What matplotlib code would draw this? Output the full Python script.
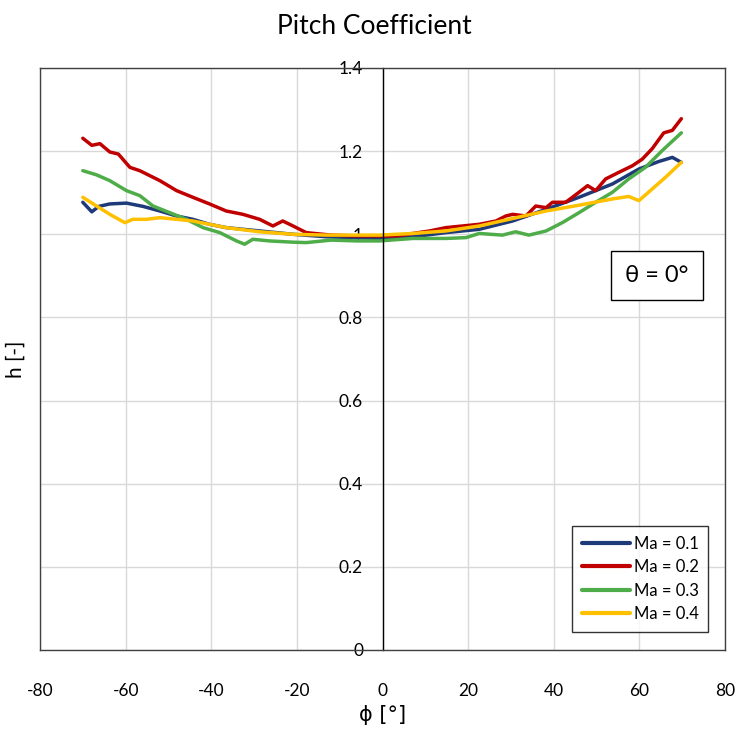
import matplotlib
matplotlib.use("Agg")
import matplotlib.pyplot as plt

plt.rcParams['font.family'] = ['Lato', 'DejaVu Sans']

# ---- data ----
phi_blue = [-70, -67.9, -66.3, -63.7, -59.8, -55.9, -52.0, -48.1, -44.3, -40.4, -36.5, -28.7, -20.9, -13.1,
            -7, -0.7, 7.1, 14.8, 22.6, 30.4, 38.2, 45.9, 53.7, 59.9, 64.5, 67.7, 69.8]
h_blue = [1.077, 1.054, 1.067, 1.073, 1.075, 1.067, 1.056, 1.044, 1.036, 1.024, 1.016, 1.008, 1.000, 0.994,
          0.992, 0.990, 0.994, 1.004, 1.012, 1.032, 1.060, 1.089, 1.121, 1.157, 1.175, 1.185, 1.173]

phi_red = [-70.0, -67.9, -66.0, -63.7, -61.7, -59.0, -56.7, -52.0, -48.1, -44.3, -40.4, -36.5, -32.6, -28.7,
           -25.6, -23.3, -20.9, -17.8, -12, -6, -0.7, 3.2, 7.1, 11.0, 14.8, 18.7, 22.6, 26.5, 28.8, 30.4,
           33.5, 35.8, 38.2, 39.7, 42.8, 45.9, 47.9, 49.8, 52.1, 55.2, 58.4, 60.7, 63.0, 65.7, 67.7, 69.8]
h_red = [1.231, 1.214, 1.218, 1.198, 1.193, 1.161, 1.153, 1.129, 1.105, 1.089, 1.073, 1.056, 1.048, 1.036,
         1.020, 1.032, 1.020, 1.004, 0.998, 0.996, 0.996, 0.996, 1.002, 1.008, 1.016, 1.020, 1.024, 1.032, 1.044, 1.048,
         1.044, 1.068, 1.064, 1.077, 1.077, 1.101, 1.117, 1.105, 1.133, 1.149, 1.165, 1.181, 1.206, 1.244, 1.250, 1.278]

phi_green = [-70, -66.8, -63.7, -59.8, -56.7, -53.6, -49.7, -45.8, -41.9, -38.0, -34.1, -32.2, -30.3, -26.4,
             -20.9, -17.8, -12, -6, -0.7, 7.1, 14.8, 19.5, 22.6, 28.0, 31.1, 34.2, 38.2, 42.0, 45.9, 49.8,
             53.7, 57.5, 61.4, 65.3, 69.8]
h_green = [1.153, 1.143, 1.129, 1.105, 1.093, 1.068, 1.052, 1.036, 1.016, 1.004, 0.984, 0.976, 0.988, 0.984,
           0.981, 0.980, 0.986, 0.984, 0.984, 0.990, 0.990, 0.992, 1.002, 0.998, 1.006, 0.998, 1.008, 1.028, 1.052, 1.077,
           1.101, 1.133, 1.161, 1.201, 1.244]

phi_yellow = [-70, -66.8, -63.7, -60.2, -58.3, -55.1, -52.0, -48.1, -44.3, -40.4, -36.5, -28.7, -20.9, -13.1,
              -7, -0.7, 7.1, 14.8, 22.6, 30.4, 38.2, 45.9, 53.7, 57.5, 59.9, 63.0, 66.1, 69.8]
h_yellow = [1.089, 1.068, 1.048, 1.028, 1.036, 1.036, 1.040, 1.036, 1.032, 1.024, 1.016, 1.006, 1.000, 0.998,
            0.998, 0.998, 1.002, 1.008, 1.020, 1.038, 1.056, 1.070, 1.085, 1.091, 1.081, 1.109, 1.137, 1.173]

series_labels = ['Ma = 0.1', 'Ma = 0.2', 'Ma = 0.3', 'Ma = 0.4']
series_colors = ['#1F3A78', '#C00000', '#4EAD48', '#FFC000']

x_ticks = [-80, -60, -40, -20, 0, 20, 40, 60, 80]
y_ticks = [0, 0.2, 0.4, 0.6, 0.8, 1.0, 1.2, 1.4]
y_tick_labels = ['0', '0.2', '0.4', '0.6', '0.8', '1', '1.2', '1.4']

# ---- figure ----
fig = plt.figure(figsize=(7.39, 7.29), dpi=100)
ax = fig.add_axes([40/739, 1-650/729, 685/739, 582/729])

data = [(phi_blue, h_blue), (phi_red, h_red), (phi_green, h_green), (phi_yellow, h_yellow)]
for (xs, ys), lab, col in zip(data, series_labels, series_colors):
    ax.plot(xs, ys, color=col, lw=2.5, label=lab, solid_capstyle='round', solid_joinstyle='round')

ax.set_xlim(-80, 80)
ax.set_ylim(0, 1.4)
ax.set_xticks(x_ticks)
ax.set_xticklabels([str(t) for t in x_ticks])
ax.set_yticks(y_ticks)
ax.set_yticklabels(y_tick_labels)

ax.grid(True, color='#D9D9D9', lw=1.0)
ax.set_axisbelow(True)

for s in ['top', 'right', 'bottom']:
    ax.spines[s].set_color('#404040')
    ax.spines[s].set_linewidth(1.0)
ax.spines['left'].set_position(('data', 0))
ax.spines['left'].set_color('black')
ax.spines['left'].set_linewidth(1.0)
ax.axvline(-80, color='#404040', lw=1.0, clip_on=False, zorder=3)

ax.tick_params(axis='both', length=0, labelsize=12.5, colors='black')
ax.tick_params(axis='x', pad=24)
ax.tick_params(axis='y', pad=14)

ax.set_xlabel('ϕ [°]', fontsize=15, family=['DejaVu Sans'])
ax.xaxis.set_label_coords(0.5, -0.112)
ax.xaxis.label.set_va('center')
ax.set_ylabel('h [-]', fontsize=15)
ax.yaxis.set_label_coords(-0.036, 0.5)
ax.yaxis.label.set_va('center')

fig.text(374/739, 1-26/729, 'Pitch Coefficient', ha='center', va='center', fontsize=19)

# theta annotation box
ax.text(0.901, 0.643, 'θ = 0°', transform=ax.transAxes, ha='center', va='center', fontsize=17,
        bbox=dict(boxstyle='square,pad=0.6', facecolor='white', edgecolor='black', lw=1.0))

leg = ax.legend(loc='lower right', bbox_to_anchor=(0.988, 0.016), fontsize=12, frameon=True, fancybox=False,
                handlelength=2.9, handletextpad=0.2, labelspacing=0.45, borderpad=0.6, handleheight=0.9)
for ln in leg.get_lines():
    ln.set_linewidth(3.0)
leg.get_frame().set_edgecolor('black')
leg.get_frame().set_linewidth(1.0)

fig.savefig('out.png', dpi=100)
